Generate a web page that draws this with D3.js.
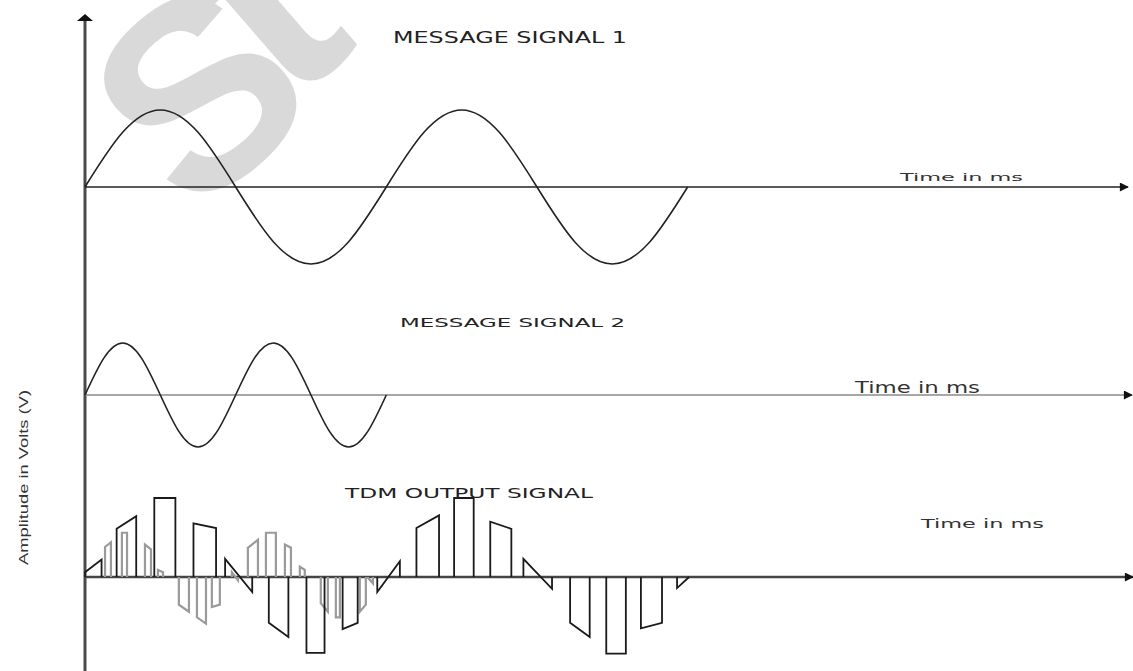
<!DOCTYPE html>
<html>
<head>
<meta charset="utf-8">
<script src="https://cdn.jsdelivr.net/npm/d3@7"></script>
<style>
  html, body { margin: 0; padding: 0; background: #fff; }
  svg { display: block; }
</style>
</head>
<body>
<svg id="chart" width="1133" height="671"></svg>
<script>
// ---- data (time in ms, amplitude in V) ----
// Message signal 1: 2 ms period, read every eighth of a period
const sig1Time = [0, 0.25, 0.5, 0.75, 1, 1.25, 1.5, 1.75, 2, 2.25, 2.5, 2.75, 3, 3.25, 3.5, 3.75, 4];
const sig1Volt = [0, 0.71, 1, 0.71, 0, -0.71, -1, -0.71, 0, 0.71, 1, 0.71, 0, -0.71, -1, -0.71, 0];

// Message signal 2: 1 ms period
const sig2Time = [0, 0.125, 0.25, 0.375, 0.5, 0.625, 0.75, 0.875, 1, 1.125, 1.25, 1.375, 1.5, 1.625, 1.75, 1.875, 2];
const sig2Volt = [0, 0.71, 1, 0.71, 0, -0.71, -1, -0.71, 0, 0.71, 1, 0.71, 0, -0.71, -1, -0.71, 0];

// TDM output: pulses carrying samples of signal 1 (start, end, value at start, value at end)
const pulse1Start = [0.00, 0.21, 0.46, 0.72, 0.93, 1.22, 1.47, 1.71, 1.94, 2.20, 2.45, 2.69, 2.91, 3.22, 3.46, 3.69, 3.93];
const pulse1End   = [0.11, 0.34, 0.60, 0.87, 1.11, 1.35, 1.59, 1.81, 2.09, 2.35, 2.58, 2.83, 3.10, 3.35, 3.59, 3.83, 4.01];
const pulse1V0    = [0.06, 0.61, 1.00, 0.68, 0.23, -0.58, -0.96, -0.66, -0.19, 0.62, 1.00, 0.70, 0.23, -0.58, -0.97, -0.65, -0.14];
const pulse1V1    = [0.22, 0.77, 1.00, 0.62, -0.19, -0.76, -0.96, -0.58, 0.20, 0.78, 1.00, 0.61, -0.15, -0.76, -0.97, -0.58, 0.00];

// TDM output: pulses carrying samples of signal 2
const pulse2Start = [0.133, 0.245, 0.398, 0.484, 0.623, 0.743, 0.842, 0.975, 1.081, 1.201, 1.327, 1.426, 1.565, 1.665, 1.824, 1.878];
const pulse2End   = [0.172, 0.279, 0.438, 0.518, 0.690, 0.803, 0.895, 1.015, 1.148, 1.267, 1.367, 1.459, 1.612, 1.692, 1.864, 1.911];
const pulse2V0    = [0.38, 0.56, 0.41, 0.09, -0.35, -0.51, -0.38, 0.06, 0.37, 0.56, 0.41, 0.13, -0.33, -0.51, -0.44, -0.01];
const pulse2V1    = [0.44, 0.56, 0.35, 0.06, -0.44, -0.59, -0.35, -0.04, 0.47, 0.56, 0.37, 0.09, -0.44, -0.51, -0.35, -0.08];

const titles = ["MESSAGE  SIGNAL 1", "MESSAGE SIGNAL 2", "TDM OUTPUT SIGNAL"];
const timeLabel = "Time in ms";
const yLabel = "Amplitude in Volts (V)";

// ---- layout ----
const svg = d3.select("#chart");
const x = d3.scaleLinear().domain([0, 6.87]).range([85, 1120]);
const y1 = d3.scaleLinear().domain([-1, 1]).range([264, 110]);
const y2 = d3.scaleLinear().domain([-1, 1]).range([447, 343]);
const y3 = d3.scaleLinear().domain([-1, 1]).range([656, 498]);

// watermark lettering behind the plot
const mark = svg.append("text")
  .attr("transform", "translate(192,220) rotate(-41)")
  .attr("font-family", "Liberation Sans, Arial, sans-serif")
  .attr("font-weight", "bold")
  .attr("font-size", 265)
  .attr("fill", "#d9d9d9");
mark.append("tspan").text("S");
mark.append("tspan").attr("dx", -30).attr("dy", -22).attr("font-size", 290).text("t");

// arrow heads
const defs = svg.append("defs");
function marker(id, color) {
  defs.append("marker")
    .attr("id", id)
    .attr("viewBox", "0 0 10 10")
    .attr("refX", 9).attr("refY", 5)
    .attr("markerUnits", "userSpaceOnUse")
    .attr("markerWidth", 12).attr("markerHeight", 9)
    .attr("orient", "auto")
    .append("path")
    .attr("d", "M0,0 L10,5 L0,10 Z")
    .attr("fill", color);
}
marker("arrowDark", "#111");

// vertical amplitude axis
svg.append("line")
  .attr("x1", 85).attr("y1", 671).attr("x2", 85).attr("y2", 18)
  .attr("stroke", "#4a4a4a").attr("stroke-width", 3);
svg.append("path")
  .attr("d", "M77,21 L85,14 L93,21 Z")
  .attr("fill", "#111");

// horizontal time axes, one per panel
const axes = [
  { y: y1(0), end: 1128, color: "#222", width: 1.6 },
  { y: y2(0), end: 1132, color: "#8a8a8a", width: 1.4 },
  { y: y3(0), end: 1133, color: "#444", width: 2.4 }
];
axes.forEach(a => {
  svg.append("line")
    .attr("x1", 85).attr("y1", a.y).attr("x2", a.end).attr("y2", a.y)
    .attr("stroke", a.color).attr("stroke-width", a.width)
    .attr("marker-end", "url(#arrowDark)");
});

// message signals
const line1 = d3.line().x((d, i) => x(sig1Time[i])).y(d => y1(d)).curve(d3.curveNatural);
const line2 = d3.line().x((d, i) => x(sig2Time[i])).y(d => y2(d)).curve(d3.curveNatural);
svg.append("path").attr("d", line1(sig1Volt))
  .attr("fill", "none").attr("stroke", "#222").attr("stroke-width", 1.6);
svg.append("path").attr("d", line2(sig2Volt))
  .attr("fill", "none").attr("stroke", "#222").attr("stroke-width", 1.6);

// TDM pulses: baseline -> sample at start -> sample at end -> baseline
function pulsePath(t0, t1, v0, v1) {
  const p = d3.path();
  p.moveTo(x(t0), y3(0));
  p.lineTo(x(t0), y3(v0));
  p.lineTo(x(t1), y3(v1));
  p.lineTo(x(t1), y3(0));
  return p.toString();
}
svg.append("g").selectAll("path")
  .data(pulse2Start)
  .join("path")
  .attr("d", (d, i) => pulsePath(d, pulse2End[i], pulse2V0[i], pulse2V1[i]))
  .attr("fill", "none").attr("stroke", "#9a9a9a").attr("stroke-width", 2.2);
svg.append("g").selectAll("path")
  .data(pulse1Start)
  .join("path")
  .attr("d", (d, i) => pulsePath(d, pulse1End[i], pulse1V0[i], pulse1V1[i]))
  .attr("fill", "none").attr("stroke", "#1a1a1a").attr("stroke-width", 1.8);

// panel titles
const titlePos = [
  { x: 393, y: 43, len: 234, size: 15 },
  { x: 400, y: 327, len: 225, size: 13 },
  { x: 345, y: 498, len: 248, size: 14 }
];
titles.forEach((t, i) => {
  const p = titlePos[i];
  svg.append("text")
    .attr("x", p.x).attr("y", p.y)
    .attr("font-family", "DejaVu Sans, sans-serif")
    .attr("font-size", p.size)
    .attr("textLength", p.len).attr("lengthAdjust", "spacingAndGlyphs")
    .attr("fill", "#222")
    .text(t);
});

// time labels
const timePos = [
  { x: 900, y: 181, len: 123, size: 11 },
  { x: 855, y: 393, len: 125, size: 15 },
  { x: 921, y: 528, len: 123, size: 12 }
];
timePos.forEach(p => {
  svg.append("text")
    .attr("x", p.x).attr("y", p.y)
    .attr("font-family", "DejaVu Sans, sans-serif")
    .attr("font-size", p.size)
    .attr("textLength", p.len).attr("lengthAdjust", "spacingAndGlyphs")
    .attr("fill", "#333")
    .text(timeLabel);
});

// amplitude label
svg.append("text")
  .attr("transform", "translate(28,565) rotate(-90)")
  .attr("font-family", "Liberation Sans Narrow, Liberation Sans, sans-serif")
  .attr("font-size", 13)
  .attr("textLength", 175).attr("lengthAdjust", "spacingAndGlyphs")
  .attr("fill", "#333")
  .text(yLabel);
</script>
</body>
</html>
